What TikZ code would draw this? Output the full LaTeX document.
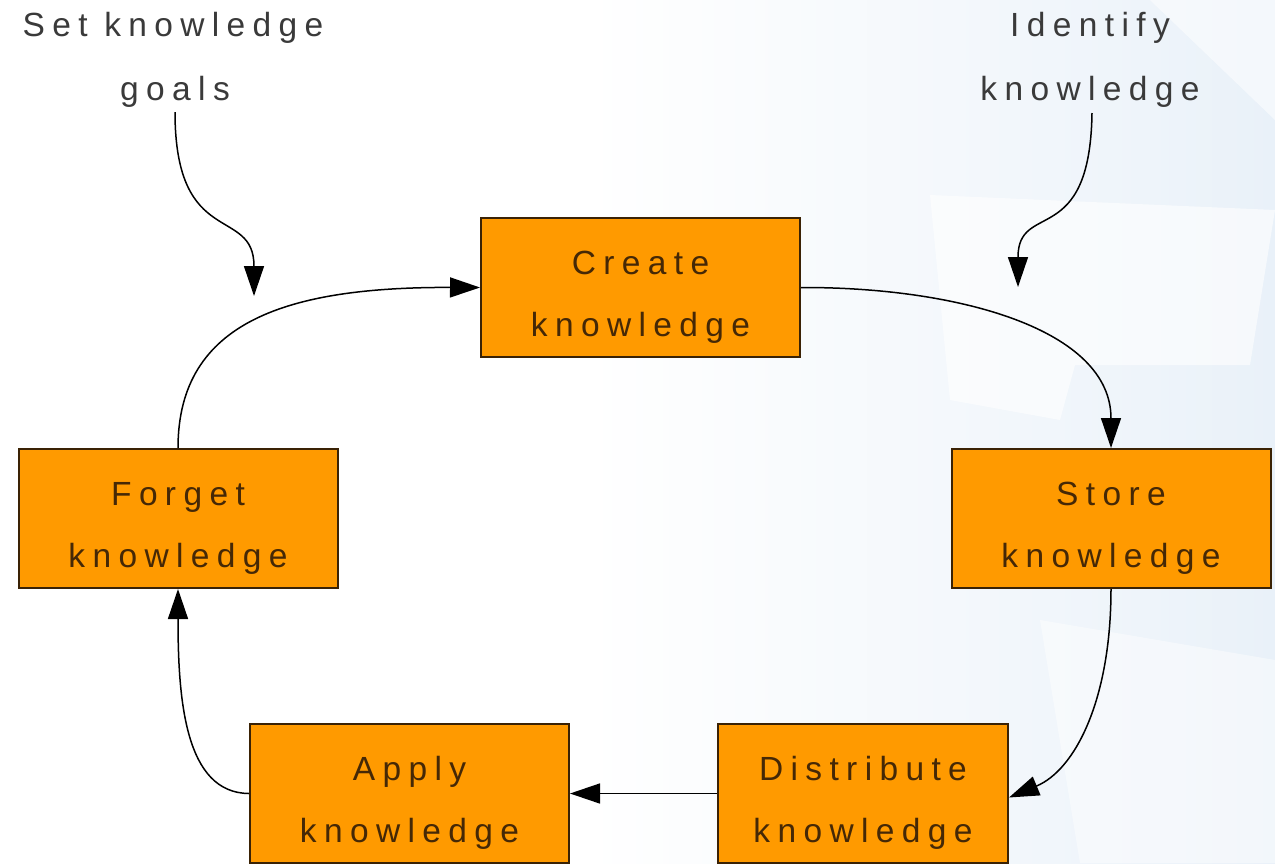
\documentclass[tikz,border=0pt]{standalone}
\usepackage{fontspec}
\setmainfont{Liberation Sans}
\newfontfamily\spaced{Liberation Sans}[LetterSpace=22]
\usetikzlibrary{arrows.meta}
\definecolor{kfill}{HTML}{FF9A00}
\definecolor{kedge}{HTML}{3A2205}
\definecolor{ktext}{HTML}{452806}
\definecolor{ltext}{HTML}{3A3A3A}
\definecolor{bgmid}{HTML}{EEF4FA}
\definecolor{bgblue}{HTML}{D0E2F2}
\pgfdeclarehorizontalshading{bgshade}{100bp}{color(0bp)=(white); color(48bp)=(white); color(70bp)=(bgmid); color(100bp)=(bgblue)}
\tikzset{
  kbox/.style={draw=kedge, line width=2pt, fill=kfill, minimum width=319pt, minimum height=139pt,
    inner sep=0pt, align=center, text=ktext, font=\spaced\fontsize{33.5}{62}\selectfont},
  lab/.style={anchor=base, inner sep=0pt, text=ltext, font=\spaced\fontsize{33.5}{62}\selectfont},
  conn/.style={draw=black, line width=1.5pt, -{Triangle[length=30pt,width=20pt]}},
}
\newcommand{\kstrut}{\rule{0pt}{42pt}}
\begin{document}
\begin{tikzpicture}[x=1pt,y=-1pt]
\useasboundingbox (0,0) rectangle (1275,863);
\shade[shading=bgshade] (0,0) rectangle (1275,863);
% faint background shapes
\fill[white, opacity=0.6] (930,195) -- (1275,210) -- (1250,365) -- (1075,365) -- (1060,420) -- (950,400) -- cycle;
\fill[white, opacity=0.45] (1040,620) -- (1275,660) -- (1275,863) -- (1080,863) -- cycle;
\fill[white, opacity=0.5] (1150,0) -- (1275,0) -- (1275,120) -- cycle;

% labels
\node[lab] (setl1) at (173,36) {Set knowledge};
\node[lab] (setl2) at (175,100) {goals};
\node[lab] (idl1) at (1090,36) {Identify};
\node[lab] (idl2) at (1090,100) {knowledge};
\coordinate (setstart) at (175,112);
\coordinate (settip) at (254,296);
\coordinate (idstart) at (1092,113);
\coordinate (idtip) at (1018,287);

% boxes
\node[kbox] (create) at (640.5,287.5) {\kstrut Create\\knowledge};
\node[kbox] (forget) at (178,518.5) {\kstrut Forget\\knowledge};
\node[kbox] (store) at (1111,518.5) {\kstrut Store\\knowledge};
\node[kbox] (apply) at (409.5,793.5) {\kstrut Apply\\knowledge};
\node[kbox, minimum width=290pt] (distribute) at (863,793.5) {\kstrut Distribute\\knowledge};

% connectors
\draw[conn] (setstart) .. controls (175,250) and (254,205) .. (settip);
\draw[conn] (idstart) .. controls (1090,250) and (1018,200) .. (idtip);
\draw[conn] (forget.north) .. controls (178,320) and (290,287) .. (create.west);
\draw[conn] (create.east) .. controls (960,287) and (1111,330) .. (store.north);
\draw[conn] (store.south) .. controls (1111,700) and (1075,770) .. ([yshift=-4pt]distribute.east);
\draw[conn] (distribute.west) -- (apply.east);
\draw[conn] (apply.west) .. controls (185,793) and (178,700) .. (forget.south);
\end{tikzpicture}
\end{document}
